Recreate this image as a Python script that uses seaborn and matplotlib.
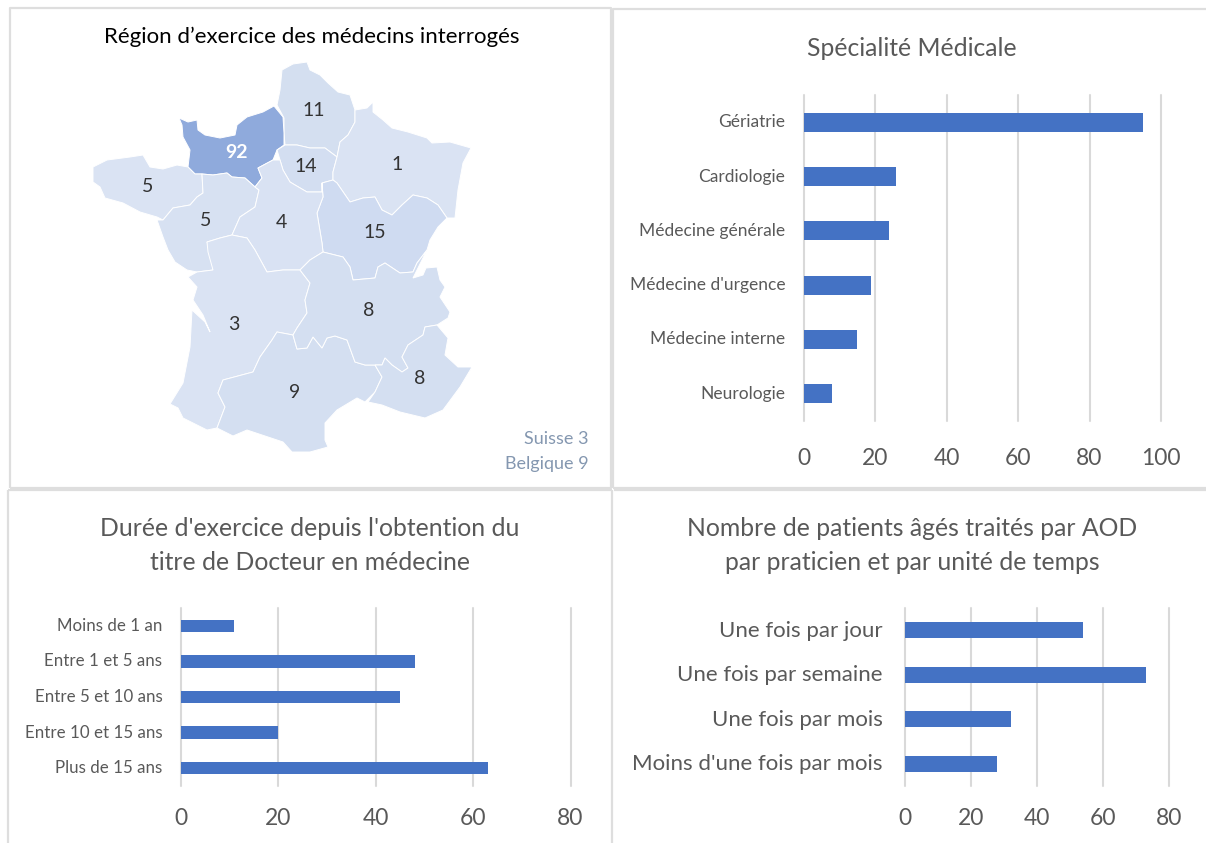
import matplotlib
matplotlib.use('Agg')
import matplotlib.pyplot as plt
from matplotlib.transforms import ScaledTranslation
import seaborn as sns

W, H = 1206, 843

# bar chart data
spec_labels = ['Gériatrie', 'Cardiologie', 'Médecine générale', "Médecine d'urgence", 'Médecine interne', 'Neurologie']
spec_values = [95, 26, 24, 19, 15, 8]
spec_ticks = [0, 20, 40, 60, 80, 100]

duree_labels = ['Moins de 1 an', 'Entre 1 et 5 ans', 'Entre 5 et 10 ans', 'Entre 10 et 15 ans', 'Plus de 15 ans']
duree_values = [11, 48, 45, 20, 63]
duree_ticks = [0, 20, 40, 60, 80]

patients_labels = ['Une fois par jour', 'Une fois par semaine', 'Une fois par mois', "Moins d'une fois par mois"]
patients_values = [54, 73, 32, 28]
patients_ticks = [0, 20, 40, 60, 80]

# region outlines, in image pixels
hauts_de_france = [(282,70),(293,64),(307,62),(310,70),(320,75),(328,83),(338,92),(350,95),(355,110),(355,122),(348,135),(340,142),(337,157),(325,148),(310,148),(297,145),(285,145),(284,133),(284,118),(277,105),(280,90)]
normandie = [(179,118),(188,122),(197,120),(198,130),(205,135),(220,138),(235,135),(237,125),(247,117),(263,112),(274,106),(283,117),(284,133),(284,145),(277,150),(273,160),(258,168),(262,178),(255,187),(245,178),(232,177),(227,173),(213,175),(202,174),(195,174),(188,167),(190,150),(183,137),(182,125)]
ile_de_france = [(277,150),(285,145),(297,145),(310,148),(325,148),(337,157),(333,172),(333,180),(322,183),(322,192),(307,192),(295,185),(290,182),(283,170),(280,160)]
grand_est = [(337,157),(340,142),(348,135),(355,122),(355,110),(367,108),(373,102),(373,112),(383,120),(392,128),(408,132),(427,138),(432,143),(450,142),(471,148),(463,163),(458,190),(455,218),(447,218),(438,205),(427,198),(413,195),(402,205),(392,215),(382,210),(375,197),(363,198),(350,202),(337,183),(333,180),(333,172)]
bourgogne = [(322,183),(333,180),(337,183),(350,202),(363,198),(375,197),(382,210),(392,215),(402,205),(413,195),(427,198),(438,205),(447,218),(443,222),(438,227),(430,240),(427,250),(417,263),(413,272),(400,273),(385,263),(378,267),(375,278),(353,280),(350,267),(343,257),(323,252),(322,243),(317,213),(323,197)]
bretagne = [(93,167),(107,160),(130,157),(143,155),(150,167),(163,169),(177,165),(188,167),(195,174),(202,174),(203,193),(197,197),(190,205),(173,208),(163,220),(157,217),(140,212),(123,203),(105,198),(100,187),(93,182)]
pays_de_la_loire = [(202,174),(213,175),(227,173),(232,177),(245,178),(255,187),(259,190),(255,207),(240,217),(232,235),(220,238),(207,242),(210,250),(213,270),(197,272),(187,270),(175,262),(168,250),(163,237),(157,220),(163,220),(173,208),(190,205),(197,197),(203,193)]
centre = [(255,187),(262,178),(258,168),(273,160),(280,160),(283,170),(290,182),(295,185),(307,192),(322,192),(322,183),(323,197),(317,213),(322,243),(323,252),(310,260),(300,270),(283,270),(267,272),(255,250),(247,238),(232,235),(240,217),(255,207),(259,190)]
nouvelle_aquitaine = [(197,272),(213,270),(208,252),(207,242),(220,238),(232,235),(247,238),(255,250),(267,272),(283,270),(300,270),(310,283),(305,300),(307,313),(297,328),(293,335),(277,332),(272,340),(260,357),(253,372),(223,380),(218,393),(225,407),(217,428),(207,430),(183,418),(178,408),(170,404),(183,383),(190,347),(192,310),(205,322),(210,332),(203,315),(193,300),(197,287),(188,277)]
occitanie = [(223,380),(253,372),(260,357),(272,340),(277,332),(293,335),(297,349),(307,348),(313,337),(322,348),(327,338),(335,336),(347,340),(355,362),(365,365),(375,365),(382,377),(375,392),(365,402),(357,398),(337,410),(325,423),(325,440),(328,447),(310,452),(292,452),(283,442),(247,430),(233,436),(217,428),(225,407),(218,393)]
auvergne_rhone_alpes = [(323,252),(343,257),(350,267),(353,280),(375,278),(378,267),(385,263),(400,273),(413,272),(417,263),(427,250),(413,278),(423,275),(426,268),(437,267),(440,280),(445,287),(440,297),(450,312),(448,318),(437,325),(425,327),(423,335),(408,345),(402,357),(408,368),(402,372),(392,365),(385,358),(382,365),(375,365),(365,365),(355,362),(347,340),(335,336),(327,338),(322,348),(313,337),(307,348),(297,349),(293,335),(297,328),(307,313),(305,300),(310,283),(300,270),(310,260)]
paca = [(437,325),(448,338),(445,355),(458,367),(472,367),(460,387),(443,410),(425,418),(400,412),(382,405),(368,402),(375,392),(382,377),(375,365),(382,365),(385,358),(392,365),(402,372),(408,368),(402,357),(408,345),(423,335),(425,327)]

regions = [hauts_de_france, normandie, ile_de_france, grand_est, bourgogne, bretagne, pays_de_la_loire,
           centre, nouvelle_aquitaine, occitanie, auvergne_rhone_alpes, paca]
region_colors = ['#D4DFF0', '#8FAADC', '#D3DEF1', '#DAE3F3', '#CFDBF1', '#DAE3F3', '#D7E1F2',
                 '#D9E2F3', '#DAE3F3', '#D4DFF1', '#D4DFF1', '#D4DFF1']
region_counts = ['11', '92', '14', '1', '15', '5', '5', '4', '3', '9', '8', '8']
count_x = [314, 236, 306, 397, 375, 148, 206, 281, 234, 295, 369, 420]
count_y = [110, 152, 167, 165, 233, 186, 221, 222, 325, 393, 310, 379]

sns.set_theme(style='white')
plt.rcParams['font.family'] = ['Lato', 'DejaVu Sans']

fig = plt.figure(figsize=(W / 100, H / 100), dpi=100, facecolor='white')

# full figure axes in image pixels: panel frames and the map
bg = fig.add_axes([0, 0, 1, 1])
bg.set_xlim(0, W)
bg.set_ylim(H, 0)
bg.axis('off')

frame_color = '#DEDEDE'
for xs, ys in [([10, 10, 611, 611, 10], [488, 8, 8, 488, 488]),
               ([613, 613, 1206], [488, 9, 9]),
               ([613, 1206], [488, 488]),
               ([8, 8], [843, 490]),
               ([8, 612], [490, 490]),
               ([612, 612], [490, 843]),
               ([614, 1206], [490, 490])]:
    bg.plot(xs, ys, color=frame_color, lw=1.6, solid_capstyle='butt')

for outline, c in zip(regions, region_colors):
    bg.fill([p[0] for p in outline], [p[1] for p in outline], facecolor=c, edgecolor='white', lw=0.7)

for label, x, y in zip(region_counts, count_x, count_y):
    text_color = 'white' if label == '92' else '#333333'
    bg.text(x, y, label, ha='center', va='center', fontsize=14, color=text_color,
            fontweight='bold' if label == '92' else 'normal')

title_color = '#595959'
bg.text(311.5, 37, 'Région d’exercice des médecins interrogés', ha='center', va='center', fontsize=16, color='black')
bg.text(589, 439, 'Suisse 3', ha='right', va='center', fontsize=13, color='#8497B0')
bg.text(589, 464, 'Belgique 9', ha='right', va='center', fontsize=13, color='#8497B0')

bg.text(911.5, 49, 'Spécialité Médicale', ha='center', va='center', fontsize=17.8, color=title_color)
bg.text(310, 529, "Durée d'exercice depuis l'obtention du", ha='center', va='center', fontsize=17.8, color=title_color)
bg.text(310, 562, 'titre de Docteur en médecine', ha='center', va='center', fontsize=17.8, color=title_color)
bg.text(912.5, 529, 'Nombre de patients âgés traités par AOD', ha='center', va='center', fontsize=17.8, color=title_color)
bg.text(912.5, 563, 'par praticien et par unité de temps', ha='center', va='center', fontsize=17.8, color=title_color)


def bar_panel(labels, values, ticks, left, right, top, bottom, label_size, tick_size, pad, label_pad):
    ax = fig.add_axes([left / W, 1 - bottom / H, (right - left) / W, (bottom - top) / H])
    ax.patch.set_alpha(0)
    sns.barplot(x=values, y=labels, color='#4472C4', saturation=1, width=0.35, linewidth=0, ax=ax, zorder=3)
    ax.set_xlim(ticks[0], ticks[-1])
    ax.set_xticks(ticks)
    ax.set_xlabel('')
    ax.set_ylabel('')
    ax.grid(axis='x', color='#D9D9D9', lw=1.5, zorder=0)
    ax.set_axisbelow(True)
    sns.despine(ax=ax, left=True, bottom=True)
    for line in ax.get_xgridlines():
        line.set_clip_on(False)
    ax.tick_params(axis='y', length=0, pad=label_pad, labelsize=label_size, labelcolor='#595959')
    ax.tick_params(axis='x', length=0, pad=pad, labelsize=tick_size, labelcolor='#595959')
    # category labels sit slightly above the bar centres in the original
    for t in ax.get_yticklabels():
        t.set_transform(t.get_transform() + ScaledTranslation(0, 1.5 / 100, fig.dpi_scale_trans))
    return ax


bar_panel(spec_labels, spec_values, spec_ticks, 803.5, 1161, 95, 421, 12.5, 16.5, 19.5, 13)
bar_panel(duree_labels, duree_values, duree_ticks, 180.5, 570.5, 608, 786, 12.2, 16.5, 16, 13)
bar_panel(patients_labels, patients_values, patients_ticks, 905, 1169, 608, 786, 16, 16.5, 16, 16)

fig.savefig('out.png', dpi=100)
